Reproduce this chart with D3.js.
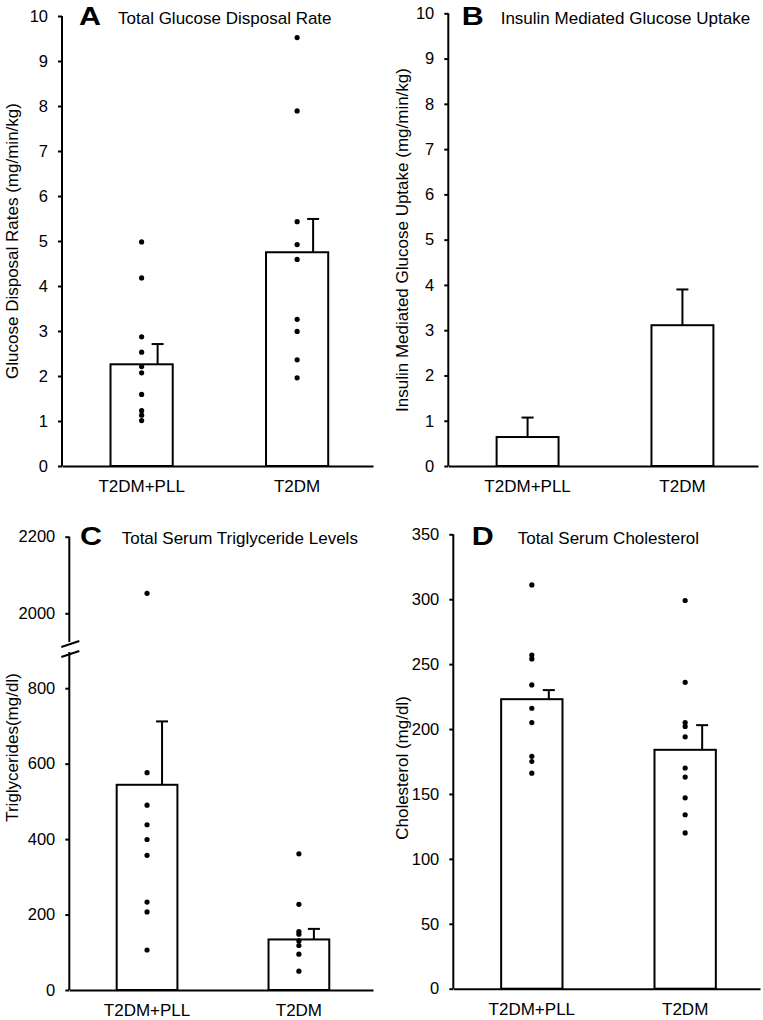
<!DOCTYPE html>
<html>
<head>
<meta charset="utf-8">
<script src="https://cdn.jsdelivr.net/npm/d3@7"></script>
<style>
  body { margin: 0; background: #fff; }
  svg { display: block; font-family: "Liberation Sans", Arial, Helvetica, sans-serif; }
  .domain, .tick line { stroke: #000; stroke-width: 2; }
  .tick text { fill: #000; }
</style>
</head>
<body>
<svg id="chart" width="763" height="1020"></svg>
<script>
var categories = ["T2DM+PLL", "T2DM"];

// A - total glucose disposal rate (mg/min/kg)
var gdrMean = [2.26, 4.75],
    gdrSE = [0.45, 0.74],
    gdrPoints = [
      [4.98, 4.18, 2.87, 2.53, 2.21, 2.07, 1.59, 1.23, 1.13, 1.01],
      [9.52, 7.89, 5.43, 4.92, 4.59, 3.26, 2.99, 2.36, 1.96]
    ];

// B - insulin mediated glucose uptake (mg/min/kg)
var imguMean = [0.64, 3.11],
    imguSE = [0.43, 0.79];

// C - triglycerides (mg/dl)
var tgMean = [544, 134],
    tgSE = [168, 28],
    tgPoints = [
      [2052, 576, 490, 438, 399, 357, 233, 207, 106],
      [361, 227, 155, 148, 130, 118, 95, 50]
    ];

// D - cholesterol (mg/dl)
var cholMean = [223, 184],
    cholSE = [7, 19],
    cholPoints = [
      [311, 257, 254, 234, 216, 205, 179, 175, 166],
      [299, 236, 205, 202, 194, 170, 163, 147, 134, 120]
    ];

var tick10 = d3.range(0, 11, 1),
    tickTgLow = [0, 200, 400, 600, 800],
    tickTgHigh = [2000, 2200],
    tickChol = d3.range(0, 351, 50);

var svg = d3.select("#chart"),
    fmt = d3.format("d");

function drawPanel(cfg) {
  var g = svg.append("g").attr("class", "panel");

  var x = d3.scaleBand()
    .domain(categories)
    .range([cfg.axisX, cfg.xEnd])
    .paddingInner(0.6)
    .paddingOuter(0.3)
    .align(0.52);

  // y scales: optional broken axis (two segments)
  var yLow = d3.scaleLinear().domain(cfg.lowDomain).range([cfg.y0, cfg.lowTop]);
  var yHigh = cfg.highDomain ? d3.scaleLinear().domain(cfg.highDomain).range([cfg.highBottom, cfg.highTop]) : null;
  function y(v) {
    if (yHigh && v > cfg.lowDomain[1]) return yHigh(v);
    return yLow(v);
  }

  var axLow = g.append("g")
    .attr("transform", "translate(" + cfg.axisX + ",0)")
    .call(d3.axisLeft(yLow).tickValues(cfg.lowTicks).tickFormat(fmt).tickSize(4).tickSizeOuter(0).tickPadding(10));
  axLow.selectAll("text").style("font-size", "16.5px");
  axLow.select(".domain").attr("d", "M0," + cfg.y0 + "V" + cfg.lowTop);

  if (yHigh) {
    var axHigh = g.append("g")
      .attr("transform", "translate(" + cfg.axisX + ",0)")
      .call(d3.axisLeft(yHigh).tickValues(cfg.highTicks).tickFormat(fmt).tickSize(4).tickSizeOuter(0).tickPadding(10));
    axHigh.selectAll("text").style("font-size", "16.5px");
    axHigh.select(".domain").attr("d", "M0," + cfg.highBottom + "V" + cfg.highTop);

    // break marks
    [cfg.highBottom + 2, cfg.lowTop + 2].forEach(function(yy) {
      g.append("line")
        .attr("x1", cfg.axisX - 8).attr("y1", yy + 3)
        .attr("x2", cfg.axisX + 10).attr("y2", yy - 3)
        .attr("stroke", "#000").attr("stroke-width", 2);
    });
  }

  var xAx = g.append("g")
    .attr("transform", "translate(0," + cfg.y0 + ")")
    .call(d3.axisBottom(x).tickSize(0).tickSizeOuter(0).tickPadding(14));
  xAx.selectAll("text").style("font-size", "17px");

  var data = categories.map(function(c, i) {
    return { cat: c, mean: cfg.mean[i], se: cfg.se[i], pts: cfg.points ? cfg.points[i] : [] };
  });

  // bars
  g.selectAll("rect.bar").data(data).enter()
    .append("rect")
      .attr("class", "bar")
      .attr("x", function(d) { return x(d.cat); })
      .attr("width", x.bandwidth())
      .attr("y", function(d) { return y(d.mean); })
      .attr("height", function(d) { return cfg.y0 - y(d.mean); })
      .attr("fill", "#fff")
      .attr("stroke", "#000")
      .attr("stroke-width", 2);

  // error bars (upper only)
  var err = g.selectAll("g.err").data(data).enter()
    .append("g").attr("class", "err")
      .attr("transform", function(d) {
        return "translate(" + (x(d.cat) + x.bandwidth() / 2 + cfg.errOffset) + ",0)";
      });
  err.append("line")
    .attr("y1", function(d) { return y(d.mean); })
    .attr("y2", function(d) { return y(d.mean + d.se); })
    .attr("stroke", "#000").attr("stroke-width", 2);
  err.append("line")
    .attr("x1", -6).attr("x2", 6)
    .attr("y1", function(d) { return y(d.mean + d.se); })
    .attr("y2", function(d) { return y(d.mean + d.se); })
    .attr("stroke", "#000").attr("stroke-width", 2);

  // individual points
  data.forEach(function(d) {
    g.selectAll(null).data(d.pts).enter()
      .append("circle")
        .attr("cx", x(d.cat) + x.bandwidth() / 2)
        .attr("cy", function(v) { return y(v); })
        .attr("r", 2.6)
        .attr("fill", "#000");
  });

  // axis title
  g.append("text")
    .attr("transform", "translate(" + cfg.titleX + "," + cfg.titleY + ") rotate(-90)")
    .attr("text-anchor", "middle")
    .attr("dy", "0.35em")
    .style("font-size", "17px")
    .text(cfg.yLabel);

  // panel letter + heading
  g.append("text")
    .attr("x", cfg.letterX).attr("y", cfg.headY)
    .attr("textLength", 22).attr("lengthAdjust", "spacingAndGlyphs")
    .style("font-size", "25px").style("font-weight", "bold")
    .text(cfg.letter);
  g.append("text")
    .attr("x", cfg.headX).attr("y", cfg.headY - 1)
    .style("font-size", "17px")
    .text(cfg.heading);
}

drawPanel({
  letter: "A", heading: "Total Glucose Disposal Rate",
  yLabel: "Glucose Disposal Rates (mg/min/kg)",
  axisX: 62, xEnd: 373, y0: 466,
  lowDomain: [0, 10], lowTop: 16, lowTicks: tick10,
  mean: gdrMean, se: gdrSE, points: gdrPoints, errOffset: 16,
  titleX: 12, titleY: 241, letterX: 79, headX: 118, headY: 25
});

drawPanel({
  letter: "B", heading: "Insulin Mediated Glucose Uptake",
  yLabel: "Insulin Mediated Glucose Uptake (mg/min/kg)",
  axisX: 448.3, xEnd: 758, y0: 466,
  lowDomain: [0, 10], lowTop: 13.3, lowTicks: tick10,
  mean: imguMean, se: imguSE, points: null, errOffset: 0,
  titleX: 401.7, titleY: 240, letterX: 461.7, headX: 500.7, headY: 25
});

drawPanel({
  letter: "C", heading: "Total Serum Triglyceride Levels",
  yLabel: "Triglycerides(mg/dl)",
  axisX: 69.3, xEnd: 373, y0: 990,
  lowDomain: [0, 896], lowTop: 652, lowTicks: tickTgLow,
  highDomain: [1925, 2200], highBottom: 642, highTop: 536.7, highTicks: tickTgHigh,
  mean: tgMean, se: tgSE, points: tgPoints, errOffset: 15,
  titleX: 11.7, titleY: 747.5, letterX: 80, headX: 121.7, headY: 545
});

drawPanel({
  letter: "D", heading: "Total Serum Cholesterol",
  yLabel: "Cholesterol (mg/dl)",
  axisX: 453.3, xEnd: 760, y0: 988.7,
  lowDomain: [0, 350], lowTop: 534.3, lowTicks: tickChol,
  mean: cholMean, se: cholSE, points: cholPoints, errOffset: 17,
  titleX: 401.7, titleY: 768, letterX: 471.7, headX: 517.7, headY: 545
});
</script>
</body>
</html>
